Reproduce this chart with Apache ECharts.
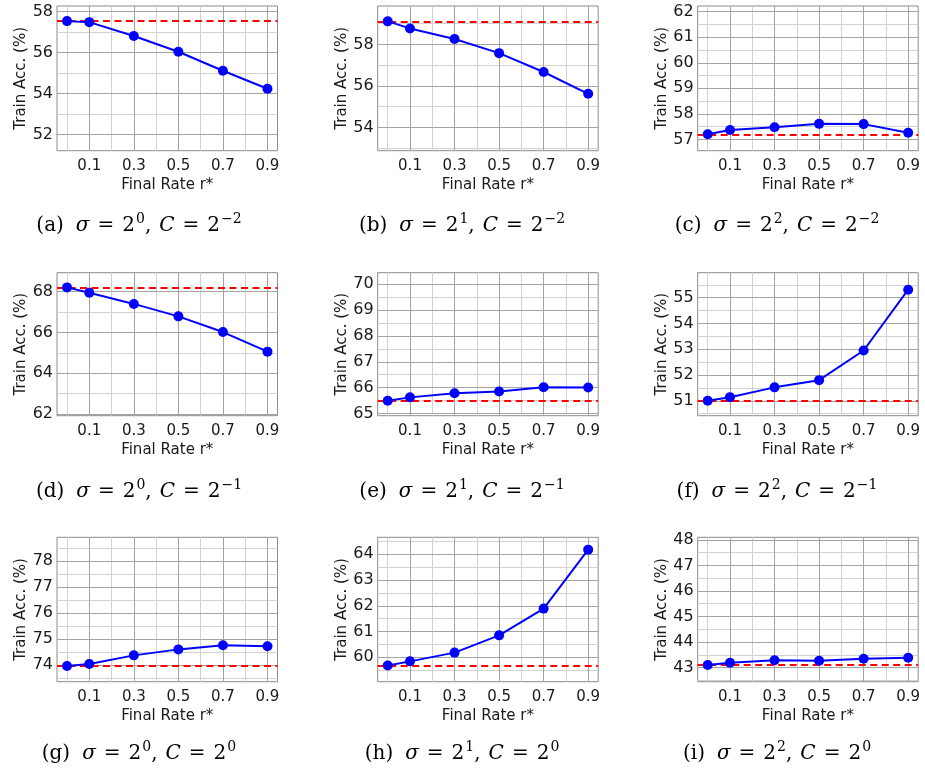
<!DOCTYPE html>
<html><head><meta charset="utf-8">
<script src="https://cdn.jsdelivr.net/npm/echarts@6/dist/echarts.min.js"></script>
<style>html,body{margin:0;padding:0;background:#fff}#c{width:925px;height:772px}</style>
</head><body><div id="c"></div>
<script>
// ---- data ----
const rates = [0, 0.1, 0.3, 0.5, 0.7, 0.9];
const xTickLabels = [0.1, 0.3, 0.5, 0.7, 0.9];
const xMinorLines = [0, 0.2, 0.4, 0.6, 0.8];
const xRange = [-0.045, 0.945];

const accA = [57.54, 57.49, 56.81, 56.04, 55.11, 54.23];
const accB = [59.11, 58.77, 58.26, 57.58, 56.67, 55.62];
const accC = [57.20, 57.37, 57.48, 57.61, 57.60, 57.26];
const accD = [68.21, 67.95, 67.40, 66.79, 66.02, 65.06];
const accE = [65.49, 65.62, 65.78, 65.85, 66.01, 66.00];
const accF = [51.00, 51.14, 51.52, 51.80, 52.95, 55.31];
const accG = [73.97, 74.05, 74.38, 74.61, 74.77, 74.73];
const accH = [59.68, 59.84, 60.18, 60.85, 61.89, 64.18];
const accI = [43.10, 43.19, 43.29, 43.27, 43.35, 43.39];

const baselines = [57.54, 59.11, 57.20, 68.21, 65.49, 51.00, 73.97, 59.68, 43.10];

const yRangeA = [51.20, 58.28], yTicksA = [52, 54, 56, 58], yMinorA = [53, 55, 57];
const yRangeB = [52.88, 59.85], yTicksB = [54, 56, 58], yMinorB = [53, 55, 57, 59];
const yRangeC = [56.56, 62.22], yTicksC = [57, 58, 59, 60, 61, 62], yMinorC = [57.5, 58.5, 59.5, 60.5, 61.5];
const yRangeD = [61.92, 68.93], yTicksD = [62, 64, 66, 68], yMinorD = [63, 65, 67];
const yRangeE = [64.91, 70.45], yTicksE = [65, 66, 67, 68, 69, 70], yMinorE = [65.5, 66.5, 67.5, 68.5, 69.5];
const yRangeF = [50.42, 55.97], yTicksF = [51, 52, 53, 54, 55], yMinorF = [50.5, 51.5, 52.5, 53.5, 54.5, 55.5];
const yRangeG = [73.37, 78.91], yTicksG = [74, 75, 76, 77, 78], yMinorG = [73.5, 74.5, 75.5, 76.5, 77.5, 78.5];
const yRangeH = [59.05, 64.66], yTicksH = [60, 61, 62, 63, 64], yMinorH = [59.5, 60.5, 61.5, 62.5, 63.5, 64.5];
const yRangeI = [42.45, 48.10], yTicksI = [43, 44, 45, 46, 47, 48], yMinorI = [42.5, 43.5, 44.5, 45.5, 46.5, 47.5];

const capLetters = ['a', 'b', 'c', 'd', 'e', 'f', 'g', 'h', 'i'];
const sigmaExp = ['0', '1', '2', '0', '1', '2', '0', '1', '2'];
const cExp = ['\u22122', '\u22122', '\u22122', '\u22121', '\u22121', '\u22121', '0', '0', '0'];

const xName = 'Final Rate r*';
const yName = 'Train Acc. (%)';

// ---- layout ----
const panels = [
  [accA, yRangeA, yTicksA, yMinorA], [accB, yRangeB, yTicksB, yMinorB], [accC, yRangeC, yTicksC, yMinorC],
  [accD, yRangeD, yTicksD, yMinorD], [accE, yRangeE, yTicksE, yMinorE], [accF, yRangeF, yTicksF, yMinorF],
  [accG, yRangeG, yTicksG, yMinorG], [accH, yRangeH, yTicksH, yMinorH], [accI, yRangeI, yTicksI, yMinorI]
];
const colLeft = [57, 377.7, 697.7];
const colW = 220.5;
const rowTop = [6, 272.7, 537.3];
const rowH = [144.7, 143, 144.4];
const capCx = [139, 462, 777];
const capCy = [226, 492, 754];

const FONT = 'DejaVu Sans';
const TXT = '#1a1a1a';
const MAJOR = '#a3a3a3';
const MINOR = '#d2d2d2';
const SERIF = 'DejaVu Serif';

const grids = [], xAxes = [], yAxes = [], series = [], graphics = [];
panels.forEach((p, k) => {
  const [acc, yr, yt, ym] = p;
  const r = Math.floor(k / 3), c = k % 3;
  grids.push({
    left: colLeft[c], top: rowTop[r], width: colW, height: rowH[r],
    show: true, borderColor: '#8c8c8c', borderWidth: 1, backgroundColor: 'transparent'
  });
  xAxes.push({
    type: 'value', gridIndex: k, min: xRange[0], max: xRange[1],
    axisLine: { show: false }, axisTick: { show: false }, splitLine: { show: false },
    axisLabel: { customValues: xTickLabels, formatter: v => v.toFixed(1), fontSize: 15, fontFamily: FONT, color: TXT, margin: 8 },
    name: xName, nameLocation: 'middle', nameGap: 27,
    nameTextStyle: { fontSize: 15, fontFamily: FONT, color: TXT }
  });
  yAxes.push({
    type: 'value', gridIndex: k, min: yr[0], max: yr[1],
    axisLine: { show: false }, axisTick: { show: false }, splitLine: { show: false },
    axisLabel: { customValues: yt, formatter: v => String(v), fontSize: 16, fontFamily: FONT, color: TXT, margin: 4 },
    name: yName, nameLocation: 'middle', nameGap: 28,
    nameTextStyle: { fontSize: 15, fontFamily: FONT, color: TXT }
  });
  const ml = [];
  ym.forEach(v => ml.push({ yAxis: v, lineStyle: { color: MINOR, width: 1, type: 'solid' } }));
  xMinorLines.forEach(v => ml.push({ xAxis: v, lineStyle: { color: MINOR, width: 1, type: 'solid' } }));
  yt.forEach(v => ml.push({ yAxis: v, lineStyle: { color: MAJOR, width: 1, type: 'solid' } }));
  xTickLabels.forEach(v => ml.push({ xAxis: v, lineStyle: { color: MAJOR, width: 1, type: 'solid' } }));
  ml.push({ yAxis: baselines[k], lineStyle: { color: '#ff0000', width: 2, type: [7, 4.5] } });
  series.push({
    type: 'line', xAxisIndex: k, yAxisIndex: k, data: [], silent: true, z: 1,
    markLine: { z: 1, silent: true, symbol: ['none', 'none'], label: { show: false }, animation: false, data: ml }
  });
  series.push({
    type: 'line', xAxisIndex: k, yAxisIndex: k, z: 3,
    data: rates.map((x, i) => [x, acc[i]]),
    symbol: 'circle', symbolSize: 10, showSymbol: true,
    lineStyle: { color: '#0000ff', width: 2 }, itemStyle: { color: '#0000ff' },
    emphasis: { disabled: true }
  });
  const text = `{n|(${capLetters[k]})}{ip|\u03c3}{eq|=}{n|2}{s|${sigmaExp[k]}}{n|,}{ic|C}{eq|=}{n|2}{s|${cExp[k]}}`;
  const base = { fontFamily: SERIF, fontSize: 20, lineHeight: 28, verticalAlign: 'middle', fill: '#000' };
  graphics.push({
    type: 'text', x: capCx[c], y: capCy[r],
    style: {
      text, align: 'center', verticalAlign: 'middle',
      rich: {
        n: base,
        eq: Object.assign({}, base, { padding: [0, 8, 0, 8] }),
        ip: Object.assign({}, base, { fontStyle: 'italic', padding: [0, 0, 0, 12] }),
        ic: Object.assign({}, base, { fontStyle: 'italic', padding: [0, 0, 0, 8] }),
        s: { fontFamily: SERIF, fontSize: 14, lineHeight: 14, verticalAlign: 'middle', fill: '#000', padding: [0, 0, 14, 1] }
      }
    }
  });
});

const chart = echarts.init(document.getElementById('c'), null, { renderer: 'canvas' });
chart.setOption({
  animation: false,
  backgroundColor: '#fff',
  grid: grids, xAxis: xAxes, yAxis: yAxes, series,
  graphic: graphics
});
</script></body></html>
